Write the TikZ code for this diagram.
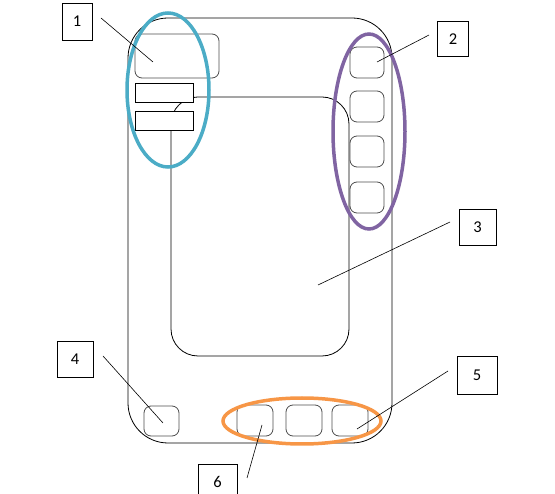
\documentclass[tikz,border=0pt]{standalone}
\usepackage{fontspec}
\setmainfont{Carlito}
\definecolor{ringblue}{HTML}{4BACC6}
\definecolor{ringpurple}{HTML}{8064A2}
\definecolor{ringorange}{HTML}{F79646}
\tikzset{
	label box/.style={draw, line width=0.8pt, minimum width=36pt, minimum height=36pt, inner sep=0pt, font=\fontsize{16.5}{19}\selectfont},
	key/.style={draw=black!70, line width=0.8pt, rounded corners=7pt},
	ring/.style={line width=3.5pt},
	leader/.style={line width=0.6pt}
}
\begin{document}
\begin{tikzpicture}[x=1pt, y=-1pt]
		\useasboundingbox (0,0) rectangle (555,494);
		\clip (0,0) rectangle (555,494);
		% the body of the device
		\draw[line width=0.8pt, rounded corners=40pt] (128,18) rectangle (392,443);
		% the screen
		\draw[line width=0.8pt, rounded corners=27pt] (171,97) rectangle (349,356);
		% top left: panel and two bars
		\draw[key] (135,34) rectangle (219,78);
		\draw[line width=0.8pt, fill=white] (135,83) rectangle (193,102);
		\draw[line width=0.8pt, fill=white] (135,111) rectangle (193,130);
		% right column of keys
		\foreach \top in {47, 91, 136, 182}
			\draw[key] (350,\top) rectangle (384,\top+31);
		% bottom keys
		\draw[key] (144,406) rectangle (179,436);
		\foreach \left in {237, 286, 332}
			\draw[key] (\left,405) rectangle (\left+36,436);
		% the rings
		\draw[ring, ringblue] (168,90) ellipse (41 and 77);
		\draw[ring, ringpurple] (369,131.5) ellipse (36 and 97.5);
		\draw[ring, ringorange] (302,421) ellipse (79 and 23);
		% labels
		\node[label box, minimum width=30pt, minimum height=37pt] (l1) at (77,21.5) {1};
		\node[label box, minimum width=31pt, minimum height=35pt] (l2) at (453,39) {2};
		\node[label box, minimum width=37pt] (l3) at (477.5,227) {3};
		\node[label box] (l4) at (75,359) {4};
		\node[label box, minimum width=40pt, minimum height=38pt] (l5) at (477,375) {5};
		\node[label box, minimum width=39pt] (l6) at (217.5,482) {6};
		% leader ends
		\coordinate (s1) at (101,18);  \coordinate (t1) at (153,62);
		\coordinate (s2) at (429,35);  \coordinate (t2) at (377,62);
		\coordinate (s3) at (450,222); \coordinate (t3) at (318,285);
		\coordinate (s4) at (103,356); \coordinate (t4) at (163,423);
		\coordinate (s5) at (448,371); \coordinate (t5) at (357,429);
		\coordinate (s6) at (247,478); \coordinate (t6) at (262,425);
		\foreach \i in {1,...,6}
			\draw[leader] (s\i) -- (t\i);
	\end{tikzpicture}
\end{document}
